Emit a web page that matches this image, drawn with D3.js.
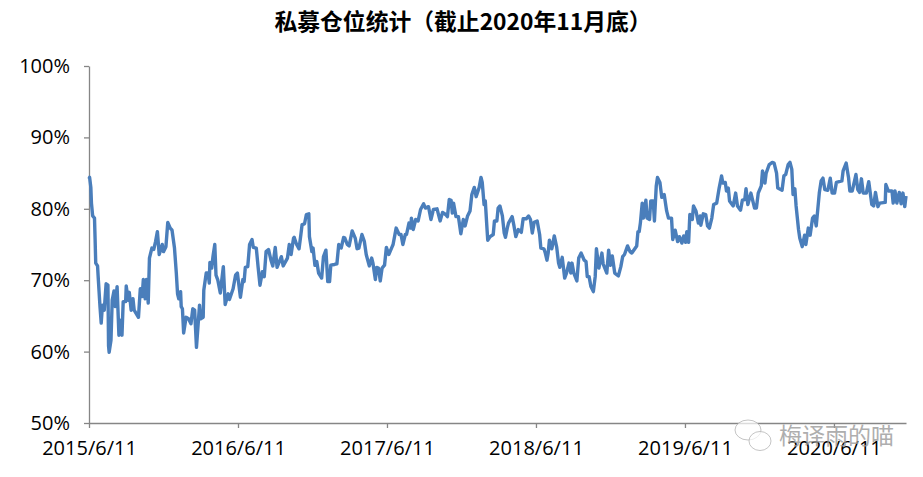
<!DOCTYPE html>
<html>
<head>
<meta charset="utf-8">
<script src="https://cdnjs.cloudflare.com/ajax/libs/d3/7.8.5/d3.min.js"></script>
<style>
  html, body { margin: 0; padding: 0; background: #fff; }
  svg { display: block; }
  text { font-family: "Open Sans", "Noto Sans CJK SC", sans-serif; fill: #000; }
</style>
</head>
<body>
<div id="chart"></div>
<script>
const title = '私募仓位统计（截止2020年11月底）';
const watermark = '梅译雨的喵';

// trading days since 2015/6/11
const tradingDay = [0,1,3,4,6,9,10,11,14,15,18,20,22,25,28,31,32,33,36,38,41,43,46,49,52,54,56,60,61,64,66,69,72,74,81,84,87,89,92,94,97,99,103,106,109,112,115,120,122,126,129,133,136,140,143,145,147,150,151,153,155,159,163,167,170,173,176,181,183,187,188,192,195,197,198,201,203,206,208,211,215,220,223,228,230,236,240,243,248,252,254,256,260,263,267,269,274,277,280,284,287,290,294,298,301,305,308,315,318,325,328,
  331,335,336,340,344,347,349,353,356,360,361,365,367,370,373,376,381,384,388,391,394,396,402,406,409,413,417,419,423,426,431,436,439,442,447,451,454,459,463,465,469,471,474,477,480,484,487,491,496,498,503,508,511,514,518,520,524,527,528,531,535,539,543,548,551,556,560,564,570,575,579,584,587,590,593,595,597,601,605,609,613,616,620,624,627,631,634,639,642,644,647,649,651,653,657,662,664,
  668,670,673,677,680,682,685,687,693,696,699,703,708,711,716,720,723,726,729,734,738,740,745,747,750,752,754,758,762,766,769,771,775,779,782,786,789,791,794,799,802,806,811,814,816,819,822,826,829,831,835,840,842,848,851,854,857,861,867,871,874,877,882,886,889,897,899,901,903,906,908,912,914,918,920,924,926,929,931,935,938,942,946,949,954,956,960,964,967,971,974,977,979,982,984,988,990,994,998,1001,
  1002,1006,1010,1013,1016,1020,1023,1028,1032,1036,1038,1042,1044,1047,1049,1055,1059,1062,1067,1070,1074,1076,1079,1084,1090,1093,1096,1101,1103,1107,1109,1114,1119,1122,1126,1128,1135,1138,1141,1145,1148,1151,1153,1156,1158,1162,1164,1168,1172,1174,1178,1181,1185,1188,1191,1196,1199,1202,1205,1210,1214,1217,1221,1224,1233,1235,1240,1244,1246,1250,1256,1259,1262,1265,1268,1273,1277,1282,1285,1288,1292,1295,1304,1305,1309,1315,1317,1320,1323,1327,1330,1333,1336,1338];

// position in percent, same order as tradingDay
const position = [84.2,84.4,83.0,80.8,79.0,78.7,75.7,72.4,72.0,70.5,66.3,64.0,66.5,65.8,69.5,69.3,60.8,59.9,61.6,67.2,68.5,66.3,69.1,62.3,64.4,62.3,67.0,67.0,69.2,67.2,68.3,65.8,67.4,65.8,64.8,68.8,67.7,70.1,67.4,70.1,66.8,73.1,74.5,74.3,75.4,76.8,73.6,75.0,74.0,74.7,78.1,77.3,77.0,74.5,71.0,68.1,67.4,68.4,66.3,66.0,62.6,64.8,64.6,63.9,66.0,65.8,60.6,66.5,64.6,64.8,68.6,71.0,71.0,69.6,72.5,71.7,73.3,75.0,70.7,70.0,68.2,71.9,66.6,68.1,67.3,68.8,70.7,71.0,67.6,70.1,69.8,71.8,71.9,75.0,75.7,74.6,74.5,71.8,69.3,71.2,70.5,74.0,74.3,72.8,72.0,74.6,71.8,73.3,72.0,73.1,75.0,
  73.6,75.9,76.0,75.0,74.4,76.4,77.8,77.9,79.2,79.3,76.1,74.0,74.5,72.1,72.6,71.0,70.3,73.3,74.2,69.8,69.8,72.1,72.2,72.3,75.0,74.5,76.0,75.9,75.0,74.8,76.9,75.9,74.4,74.5,76.4,75.4,73.6,72.0,73.1,72.4,70.1,71.8,71.7,69.9,71.7,72.1,74.6,73.6,74.6,75.0,77.3,76.4,76.4,75.0,76.4,76.4,78.0,77.3,78.7,77.1,78.5,78.3,79.9,80.7,80.1,80.3,78.5,79.9,80.0,78.3,79.5,79.2,78.9,81.3,81.2,79.4,80.8,78.9,78.9,76.5,78.5,77.6,79.0,79.7,82.0,83.0,81.7,83.0,84.4,83.7,80.6,81.1,78.3,75.6,76.1,76.4,78.3,
  78.3,80.1,80.4,79.0,76.6,76.0,77.3,78.0,78.9,77.6,76.1,77.1,76.7,78.6,78.6,79.0,78.5,76.6,78.1,78.3,76.4,74.5,74.4,73.9,72.8,73.8,75.6,74.4,76.2,74.6,72.4,71.8,73.2,70.3,71.0,72.4,71.0,72.4,71.0,69.9,73.1,73.8,72.8,72.6,70.5,70.5,69.1,68.4,70.5,74.4,71.7,73.8,72.3,71.0,74.2,72.1,73.4,71.0,70.6,71.9,73.3,73.6,74.8,74.0,73.8,74.8,76.8,76.8,78.0,80.8,78.7,81.2,78.7,78.5,81.1,81.1,78.3,83.2,84.4,83.7,81.6,82.0,79.7,78.7,78.7,75.7,77.0,75.4,76.1,75.2,76.2,75.3,76.8,75.3,79.2,78.5,80.4,79.7,78.0,79.0,
  77.7,79.3,79.2,77.6,77.3,78.7,80.6,80.8,82.9,84.6,83.6,83.7,82.5,82.9,81.1,80.4,82.2,80.4,79.8,81.2,81.3,82.8,80.6,82.2,80.1,80.1,82.2,83.2,85.3,83.6,85.0,86.2,86.5,86.4,85.0,82.9,82.6,84.6,84.8,86.2,86.5,85.5,82.0,82.8,80.4,77.1,75.9,74.7,76.3,75.0,77.3,76.3,78.7,79.0,77.6,82.2,83.9,84.3,82.7,82.6,84.3,82.2,82.2,83.7,83.9,85.3,86.4,84.3,82.5,82.5,84.8,82.7,82.3,84.2,82.2,82.2,83.8,80.6,80.4,82.3,80.3,80.8,80.9,83.4,82.5,82.5,80.8,82.5,80.8,82.3,80.7,82.2,80.3,81.8];

const xTickDays = [0,244,488,732,976,1220];
const xTickLabels = ['2015/6/11','2016/6/11','2017/6/11','2018/6/11','2019/6/11','2020/6/11'];
const yTicks = [50,60,70,80,90,100];

const width = 923;
const height = 477;
const margin = { top: 66, right: 17, bottom: 54, left: 89 };
const axisColor = '#868686';

const svg = d3.select('#chart').append('svg')
  .attr('width', width)
  .attr('height', height);

const x = d3.scaleLinear()
  .domain([0, 1338])
  .range([margin.left, width - margin.right]);

const y = d3.scaleLinear()
  .domain([50, 100])
  .range([height - margin.bottom, margin.top]);

// Title
svg.append('text')
  .attr('x', 463)
  .attr('y', 30)
  .attr('text-anchor', 'middle')
  .style('font-family', '"Noto Sans CJK SC", sans-serif')
  .style('font-size', '22.8px')
  .style('font-weight', 700)
  .text(title);

// Y-axis
const yAxis = svg.append('g')
  .attr('transform', `translate(${margin.left},0)`)
  .call(d3.axisLeft(y).tickValues(yTicks).tickFormat(d => d + '%').tickSize(5).tickSizeOuter(0).tickPadding(14));

// X-axis
const xAxis = svg.append('g')
  .attr('transform', `translate(0,${height - margin.bottom})`)
  .call(d3.axisBottom(x).tickValues(xTickDays).tickFormat((d, i) => xTickLabels[i]).tickSize(5).tickSizeOuter(0).tickPadding(13));

[yAxis, xAxis].forEach(axis => {
  axis.selectAll('path, line').attr('stroke', axisColor).attr('stroke-width', 1.3);
  axis.selectAll('text').style('font-size', '20px').style('fill', '#000');
});

// Line
const line = d3.line()
  .x((d, i) => x(tradingDay[i]))
  .y(d => y(d));

svg.append('path')
  .datum(position)
  .attr('fill', 'none')
  .attr('stroke', '#4a7ebb')
  .attr('stroke-width', 3.4)
  .attr('stroke-linejoin', 'round')
  .attr('d', line);

// Watermark
const mark = svg.append('g')
  .attr('fill', 'none')
  .attr('stroke', '#b5b5b5')
  .attr('stroke-width', 0.8);
mark.append('ellipse').attr('cx', 748).attr('cy', 430).attr('rx', 13).attr('ry', 10).attr('fill', 'rgba(255,255,255,0.7)');
mark.append('ellipse').attr('cx', 760).attr('cy', 441).attr('rx', 11).attr('ry', 9.5).attr('fill', 'rgba(255,255,255,0.7)');

svg.append('text')
  .attr('x', 779)
  .attr('y', 444)
  .style('font-family', '"Noto Sans CJK SC", sans-serif')
  .style('font-size', '23px')
  .style('fill', '#9a9a9a')
  .style('opacity', 0.8)
  .text(watermark);
</script>
</body>
</html>
